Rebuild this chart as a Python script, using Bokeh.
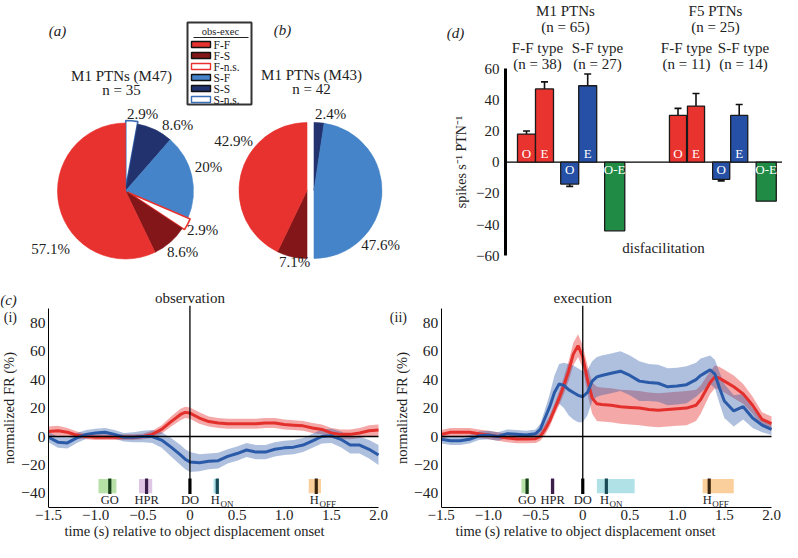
import math
from bokeh.plotting import figure
from bokeh.layouts import column, row
from bokeh.models import Range1d, FixedTicker, ColumnDataSource, Whisker, TeeHead
from bokeh.embed import file_html
from bokeh.resources import INLINE
from bokeh.core.properties import value

FONT = "Liberation Serif"

# ---------------- data ----------------
# (a), (b) pies: slices listed clockwise from 12 o'clock
slice_names = ["S-n.s.", "S-S", "S-F", "F-n.s.", "F-S", "F-F"]
m47_counts = [1, 3, 7, 1, 3, 20]     # n = 35
m43_counts = [0, 1, 20, 0, 3, 18]    # n = 42
m47_pct = ["2.9%", "8.6%", "20%", "2.9%", "8.6%", "57.1%"]
m43_pct = ["", "2.4%", "47.6%", "", "7.1%", "42.9%"]
legend_order = ["F-F", "F-S", "F-n.s.", "S-F", "S-S", "S-n.s."]

# (d) bars: O, E (F-F type), O, E (S-F type), O-E
d_groups = ["M1 PTNs", "F5 PTNs"]
d_group_n = [65, 25]
d_ff_n = [38, 11]
d_sf_n = [27, 14]
d_bar_labels = ["O", "E", "O", "E", "O-E"]
d_m1 = [18, 47, -14, 49, -44]
d_m1_err = [2, 4.5, 1.5, 7.5, 0]
d_f5 = [30, 36, -11, 30, -25]
d_f5_err = [4.5, 8, 1, 7, 0]
d_yticks = [-60, -40, -20, 0, 20, 40, 60]

# (c)(i) observation
t_obs = [-1.5, -1.4, -1.3, -1.2, -1.1, -1.0, -0.9, -0.8, -0.7, -0.6, -0.5, -0.4, -0.3, -0.2,
         -0.1, -0.05, 0.0, 0.1, 0.2, 0.3, 0.4, 0.5, 0.6, 0.7, 0.8, 0.9, 1.0, 1.1, 1.2, 1.3,
         1.4, 1.5, 1.6, 1.7, 1.8, 1.9, 2.0]
obs_ff = [3.5, 4, 3, 1, 0, -0.5, -0.5, -0.5, -0.5, -0.5, 0, 1.5, 5, 10.5,
          15.5, 17, 16.5, 13, 10.5, 9.5, 9, 9, 9, 9, 9.5, 9.5, 8.5, 8, 7.5, 6,
          5, 2.5, 1.5, 1.5, 2.5, 4, 4.5]
obs_ff_sem = [3.5, 3.5, 3, 2.5, 2, 2, 2, 2, 2, 2, 2, 2.5, 3, 3.5,
              4, 4, 4, 4, 3.5, 3.5, 3.5, 3.5, 3.5, 3.5, 3.5, 3.5, 3.5, 3.5, 3.5, 3.5,
              3.5, 3.5, 3.5, 3.5, 3.5, 4, 4]
obs_sf = [-0.5, -4, -4.5, -1, 1.5, 2.5, 3, 1.5, -0.5, -0.5, 0, 0, -2.5, -7.5,
          -13, -16, -18, -18.5, -17.5, -17, -14, -12, -9.5, -11, -11, -9, -8, -7.5, -6, -3,
          0, 0.5, -2, -6, -6, -9, -13]
obs_sf_sem = [3.5, 4, 4, 3.5, 3, 3, 3, 3, 3, 3.5, 4, 4.5, 5.5, 6.5,
              7, 7, 7, 6, 5.5, 5.5, 5, 5, 5, 5, 5, 5, 5, 5, 5, 5,
              5, 5, 5.5, 6, 6, 6.5, 7]

# (c)(ii) execution
t_exe = [-1.5, -1.4, -1.3, -1.2, -1.1, -1.0, -0.9, -0.8, -0.7, -0.6, -0.5, -0.45, -0.4, -0.35,
         -0.3, -0.25, -0.2, -0.15, -0.1, -0.05, 0.0, 0.05, 0.1, 0.15, 0.2, 0.3, 0.4, 0.5, 0.6,
         0.7, 0.8, 0.9, 1.0, 1.1, 1.2, 1.25, 1.3, 1.35, 1.4, 1.45, 1.5, 1.6, 1.7, 1.8, 1.9, 2.0]
exe_ff = [1.5, 3, 3, 3, 2, 1, 0, -1, -1.8, -1.8, -1.5, 0, 5, 11,
          19, 27, 36, 46, 58, 64, 56, 40, 27, 23, 22.5, 22, 21, 20.5, 20,
          19, 18.5, 19, 19.5, 20, 22, 26, 32, 38, 42, 41, 39, 35, 30, 22, 12, 9]
exe_ff_sem = [3, 3, 3, 3, 3, 3, 3, 3, 3, 3, 3, 3, 4, 4,
              4, 5, 6, 7, 8, 8, 8, 10, 11, 12, 12, 12, 12, 12, 12,
              12, 12, 12, 12, 12, 11, 10, 9, 8, 8, 8, 8, 8, 7, 6, 5, 5]
exe_sf = [-2, -3, -3, -2, 0.5, 1, 0, 2, 1.5, 1, 2, 5, 13, 21,
          31, 37, 36, 33, 31, 29, 28, 31, 39, 42, 43, 44.5, 46, 43, 39,
          38, 37.5, 35, 35.5, 36.5, 40, 43, 45, 47, 44, 34, 25, 18, 21, 13, 8, 5]
exe_sf_sem = [3, 3, 3, 3, 3, 3, 3, 3, 3, 3, 3, 4, 6, 9,
              12, 14, 16, 18, 19, 19, 18, 16, 14, 14, 14, 14, 14, 14, 14,
              13, 13, 13, 13, 13, 12, 12, 11, 10, 10, 11, 12, 11, 9, 7, 5, 4]

# behavioural event markers (time, s)
ev_names = ["GO", "HPR", "DO", "H", "H"]
ev_subs = ["", "", "", "ON", "OFF"]
obs_ev_start = [-0.97, -0.54, 0.0, 0.25, 1.26]
obs_ev_end = [-0.78, -0.40, 0.0, 0.31, 1.39]
obs_ev_tick = [-0.85, -0.46, 0.0, 0.29, 1.34]
exe_ev_start = [-0.65, -0.34, 0.0, 0.15, 1.27]
exe_ev_end = [-0.57, -0.30, 0.0, 0.55, 1.60]
exe_ev_tick = [-0.59, -0.32, 0.0, 0.25, 1.34]

x_ticks = [-1.5, -1, -0.5, 0, 0.5, 1, 1.5, 2]
x_tick_text = ["\u22121.5", "\u22121.0", "\u22120.5", "0", "0.5", "1.0", "1.5", "2.0"]
y_ticks = [-40, -20, 0, 20, 40, 60, 80]

# ---------------- styles ----------------
SLICE_FILL = {"F-F": "#e8322f", "F-S": "#831619", "F-n.s.": "white",
              "S-F": "#4584c8", "S-S": "#22326f", "S-n.s.": "white"}
SLICE_LINE = {"F-F": "#e8322f", "F-S": "#831619", "F-n.s.": "#e8322f",
              "S-F": "#4584c8", "S-S": "#22326f", "S-n.s.": "#3a6fb8"}
BAR_FILL = ["#e8332e", "#e8332e", "#2550a6", "#2550a6", "#1f8b45"]
RED = "#e4302d"
BLUE = "#2b5aa8"
EV_FILL = ["#b4dfa2", "#dcc3e3", None, "#abdfe6", "#fbcc96"]
EV_TICK = ["#17401a", "#3b1f4a", "#000000", "#1a4a55", "#3a2510"]
INK = "#222222"


def minus(v):
    return f"{v:g}".replace("-", "\u2212")


def style_axis(ax, tick_size, label_size):
    ax.axis_line_color = "black"
    ax.major_tick_out = 0
    ax.major_tick_in = 0
    ax.minor_tick_out = 0
    ax.minor_tick_in = 0
    ax.major_label_text_font = FONT
    ax.major_label_text_font_size = tick_size
    ax.major_label_text_color = INK
    ax.axis_label_text_font = FONT
    ax.axis_label_text_font_style = "normal"
    ax.axis_label_text_font_size = label_size
    ax.axis_label_text_color = INK


# ================= (a) (b) pies + legend =================
TOP_H = 268
pie = figure(width=412, height=TOP_H, x_range=Range1d(0, 412), y_range=Range1d(-TOP_H, 0),
             x_axis_location=None, y_axis_location=None, output_backend="svg",
             toolbar_location=None, min_border=0)
pie.grid.visible = False
pie.outline_line_color = None


def draw_pie(p, cx, cy, r, counts, explode):
    total = sum(counts)
    cum = 0
    data = dict(x=[], y=[], sa=[], ea=[], fc=[], lc=[], lw=[])
    for name, c in zip(slice_names, counts):
        if c == 0:
            continue
        a_end = math.pi / 2 - 2 * math.pi * cum / total
        a_start = math.pi / 2 - 2 * math.pi * (cum + c) / total
        dx, dy = explode(name, 0.5 * (a_start + a_end))
        data["x"].append(cx + dx)
        data["y"].append(cy + dy)
        data["sa"].append(a_start)
        data["ea"].append(a_end)
        data["fc"].append(SLICE_FILL[name])
        data["lc"].append(SLICE_LINE[name])
        data["lw"].append(1.6 if "n.s." in name else 0.6)
        cum += c
    p.wedge(x="x", y="y", radius=r, start_angle="sa", end_angle="ea", fill_color="fc",
            line_color="lc", line_width="lw", source=ColumnDataSource(data))


def explode_a(name, mid):
    if "n.s." in name:
        return 2.5 * math.cos(mid), 2.5 * math.sin(mid)
    return 0.0, 0.0


def explode_b(name, mid):
    return (3.5, 0.0) if name.startswith("S") else (-3.5, 0.0)


draw_pie(pie, 125, -190.5, 68, m47_counts, explode_a)
draw_pie(pie, 310, -190, 68, m43_counts, explode_b)

txt = dict(text_font=value(FONT), text_font_size="15px", text_color=INK,
           text_align="center", text_baseline="middle")
pie.text(x=[142, 177, 208, 202, 182, 50], y=[-113, -124, -166, -229, -251, -248],
         text=m47_pct, **txt)
pie.text(x=[330, 380, 294, 233], y=[-113, -244, -261, -140],
         text=[m43_pct[1], m43_pct[2], m43_pct[4], m43_pct[5]], **txt)
pie.text(x=[121, 311], y=[-75, -74], text=["M1 PTNs (M47)", "M1 PTNs (M43)"], **txt)
pie.text(x=[121, 311], y=[-89, -88],
         text=[f"n = {sum(m47_counts)}", f"n = {sum(m43_counts)}"], **txt)
pie.text(x=[57, 282], y=[-30, -29], text=["(a)", "(b)"],
         **dict(txt, text_font_style="italic"))

# legend box
pie.quad(left=[187], right=[251], top=[-22], bottom=[-104], fill_color="white",
         line_color="#333333", line_width=2)
pie.text(x=[220], y=[-30.5], text=["obs-exec"], text_font=value(FONT), text_font_size="10.5px",
         text_align="center", text_baseline="middle", text_color=INK)
pie.segment(x0=[193], y0=[-37], x1=[248], y1=[-37], line_color=INK, line_width=1)
rows_y = [-44 - 11 * i for i in range(len(legend_order))]
pie.rect(x=[200.5] * len(legend_order), y=rows_y, width=19, height=6,
         fill_color=[SLICE_FILL[n] for n in legend_order],
         line_color=[SLICE_LINE[n] if "n.s." in n else "#111111" for n in legend_order],
         line_width=1.4)
pie.text(x=[213] * len(legend_order), y=rows_y, text=legend_order, text_font=value(FONT),
         text_font_size="11.5px", text_align="left", text_baseline="middle", text_color=INK)

# ================= (d) bars =================
PX = 18.0                 # px per bar unit
AX_X = 93                 # y axis position inside the (d) canvas
Y0_REF, YS = 161.7, 1.56  # row of value 0 and px per unit


def ry(ref_y):
    return (Y0_REF - ref_y) / YS


bar = figure(width=370, height=TOP_H, x_range=Range1d(-AX_X / PX, (370 - AX_X) / PX),
             y_range=Range1d(ry(TOP_H), ry(0)), x_axis_location=None,
             output_backend="svg", toolbar_location=None, min_border=0)
bar.grid.visible = False
bar.outline_line_color = None
yax = bar.yaxis[0]
style_axis(yax, "15px", "14px")
yax.fixed_location = 0
yax.bounds = (-60, 60)
yax.ticker = FixedTicker(ticks=d_yticks)
yax.major_label_overrides = {v: minus(v) for v in d_yticks}
yax.axis_line_width = 3
yax.major_label_standoff = 6
yax.axis_label = "spikes s\u207b\u00b9 PTN\u207b\u00b9"
yax.axis_label_standoff = 4

bar.segment(x0=[0], y0=[0], x1=[(370 - AX_X) / PX], y1=[0], line_color="black",
            line_width=1.2, level="underlay")

offsets = [0, 1, 2.4, 3.4, 4.9]
widths = [1, 1, 1, 1, 1.12]
group_base = [(526 - 505) / PX, (677.5 - 505) / PX]
bx, btop, bw, bcol, blab, ly, ex, eup, elo = [], [], [], [], [], [], [], [], []
for gi, (vals, errs) in enumerate([(d_m1, d_m1_err), (d_f5, d_f5_err)]):
    for k, (v, e) in enumerate(zip(vals, errs)):
        x = group_base[gi] + offsets[k]
        bx.append(x)
        btop.append(v)
        bw.append(widths[k] * (0.95 if gi == 1 and k < 4 else 1.0))
        bcol.append(BAR_FILL[k])
        blab.append(d_bar_labels[k])
        ly.append(5.5 if v > 0 else -4.5)
        if e > 0:
            ex.append(x)
            eup.append(v + e)
            elo.append(v - e)
bar.vbar(x=bx, top=btop, bottom=0, width=bw, fill_color=bcol, line_color="#1a1a1a",
         line_width=1.3)
bar.add_layout(Whisker(source=ColumnDataSource(dict(x=ex, u=eup, l=elo)), base="x",
                       upper="u", lower="l", line_color="#111111", line_width=1.6,
                       upper_head=TeeHead(size=7, line_color="#111111", line_width=1.6),
                       lower_head=TeeHead(size=7, line_color="#111111", line_width=1.6)))
bar.text(x=bx, y=ly, text=blab, text_font=value(FONT), text_font_size="13px",
         text_color="white", text_align="center", text_baseline="middle")

gx = [(565 - 505) / PX, (715 - 505) / PX]
ffx = [(537 - 505) / PX, (686 - 505) / PX]
sfx = [(597 - 505) / PX, (743 - 505) / PX]
bar.text(x=gx, y=[ry(10)] * 2, text=d_groups, **txt)
bar.text(x=gx, y=[ry(26)] * 2, text=[f"(n = {n})" for n in d_group_n], **txt)
bar.text(x=ffx + sfx, y=[ry(47)] * 4, text=["F-F type"] * 2 + ["S-F type"] * 2, **txt)
bar.text(x=ffx + sfx, y=[ry(63)] * 4,
         text=[f"(n = {n})" for n in d_ff_n] + [f"(n = {n})" for n in d_sf_n], **txt)
bar.text(x=[(663 - 505) / PX], y=[ry(247)], text=["disfacilitation"], **txt)
bar.text(x=[(455 - 505) / PX], y=[ry(32)], text=["(d)"], **dict(txt, text_font_style="italic"))

# ================= (c) traces =================
BOT_H = 274
BOT_B = 35          # px under the frame for the time axis
SY = 1.42           # px per % unit


def trace_panel(width, ax_x, x2_px, title, t, ff, ff_sem, sf, sf_sem,
                ev_start, ev_end, ev_tick, tag, show_c):
    sx = (x2_px - ax_x) / 3.5
    frame_h = BOT_H - BOT_B
    p = figure(width=width, height=BOT_H,
               x_range=Range1d(-1.5 - ax_x / sx, 2.0 + (width - x2_px) / sx),
               y_range=Range1d(-50, -50 + frame_h / SY),
               output_backend="svg", toolbar_location=None,
               min_border_left=0, min_border_right=0, min_border_top=0,
               min_border_bottom=BOT_B)
    p.grid.visible = False
    p.outline_line_color = None
    xa, ya = p.xaxis[0], p.yaxis[0]
    style_axis(xa, "15px", "14.5px")
    style_axis(ya, "15.5px", "14.5px")
    xa.bounds = (-1.5, 2.0)
    xa.ticker = FixedTicker(ticks=x_ticks)
    xa.major_label_overrides = dict(zip(x_ticks, x_tick_text))
    xa.major_label_standoff = 2
    xa.axis_label_standoff = 0
    xa.axis_label = "time (s) relative to object displacement onset"
    ya.fixed_location = -1.5
    ya.bounds = (-50, 90)
    ya.ticker = FixedTicker(ticks=y_ticks)
    ya.major_label_overrides = {v: minus(v) for v in y_ticks}
    ya.major_label_standoff = 3
    ya.axis_label_standoff = 1
    ya.axis_label = "normalized FR (%)"

    p.varea(x=t, y1=[m - s for m, s in zip(ff, ff_sem)], y2=[m + s for m, s in zip(ff, ff_sem)],
            fill_color=RED, fill_alpha=0.42)
    p.varea(x=t, y1=[m - s for m, s in zip(sf, sf_sem)], y2=[m + s for m, s in zip(sf, sf_sem)],
            fill_color=BLUE, fill_alpha=0.38)
    p.line(t, ff, line_color=RED, line_width=3)
    p.line(t, sf, line_color=BLUE, line_width=3)
    p.segment(x0=[-1.5], y0=[0], x1=[2.0], y1=[0], line_color="black", line_width=1.3)
    p.segment(x0=[0], y0=[-30], x1=[0], y1=[92], line_color="black", line_width=1.3)

    for i in range(len(ev_names)):
        if EV_FILL[i] is not None:
            p.quad(left=[ev_start[i]], right=[ev_end[i]], bottom=[-40], top=[-30],
                   fill_color=EV_FILL[i], line_color=None, fill_alpha=0.95)
        p.segment(x0=[ev_tick[i]], y0=[-29.5], x1=[ev_tick[i]], y1=[-40.5],
                  line_color=EV_TICK[i], line_width=3.2)
    lab = dict(text_font=value(FONT), text_font_size="12.5px", text_color=INK,
               text_baseline="middle")
    main_x = [tk - (0.02 if s else 0) for tk, s in zip(ev_tick, ev_subs)]
    p.text(x=main_x, y=[-44.5] * len(ev_names), text=ev_names, text_align="center", **lab)
    sub_i = [i for i, s in enumerate(ev_subs) if s]
    p.text(x=[main_x[i] for i in sub_i], y=[-47.5] * len(sub_i),
           text=[ev_subs[i] for i in sub_i], x_offset=5, text_align="left",
           **dict(lab, text_font_size="9px"))

    p.text(x=[0], y=[97.5], text=[title], **txt)
    tag_x = -1.5 - (ax_x - 8) / sx
    p.text(x=[tag_x + 0.02], y=[84], text=[tag], **dict(txt, text_font_size="14px"))
    if show_c:
        p.text(x=[tag_x], y=[96], text=["(c)"], **dict(txt, text_font_style="italic"))
    return p


obs = trace_panel(388, 48, 378, "observation", t_obs, obs_ff, obs_ff_sem, obs_sf, obs_sf_sem,
                  obs_ev_start, obs_ev_end, obs_ev_tick, "(i)", True)
exe = trace_panel(394, 52.7, 383, "execution", t_exe, exe_ff, exe_ff_sem, exe_sf, exe_sf_sem,
                  exe_ev_start, exe_ev_end, exe_ev_tick, "(ii)", False)

layout = column(row(pie, bar), row(obs, exe))
open("out.html", "w").write(file_html(layout, INLINE))
